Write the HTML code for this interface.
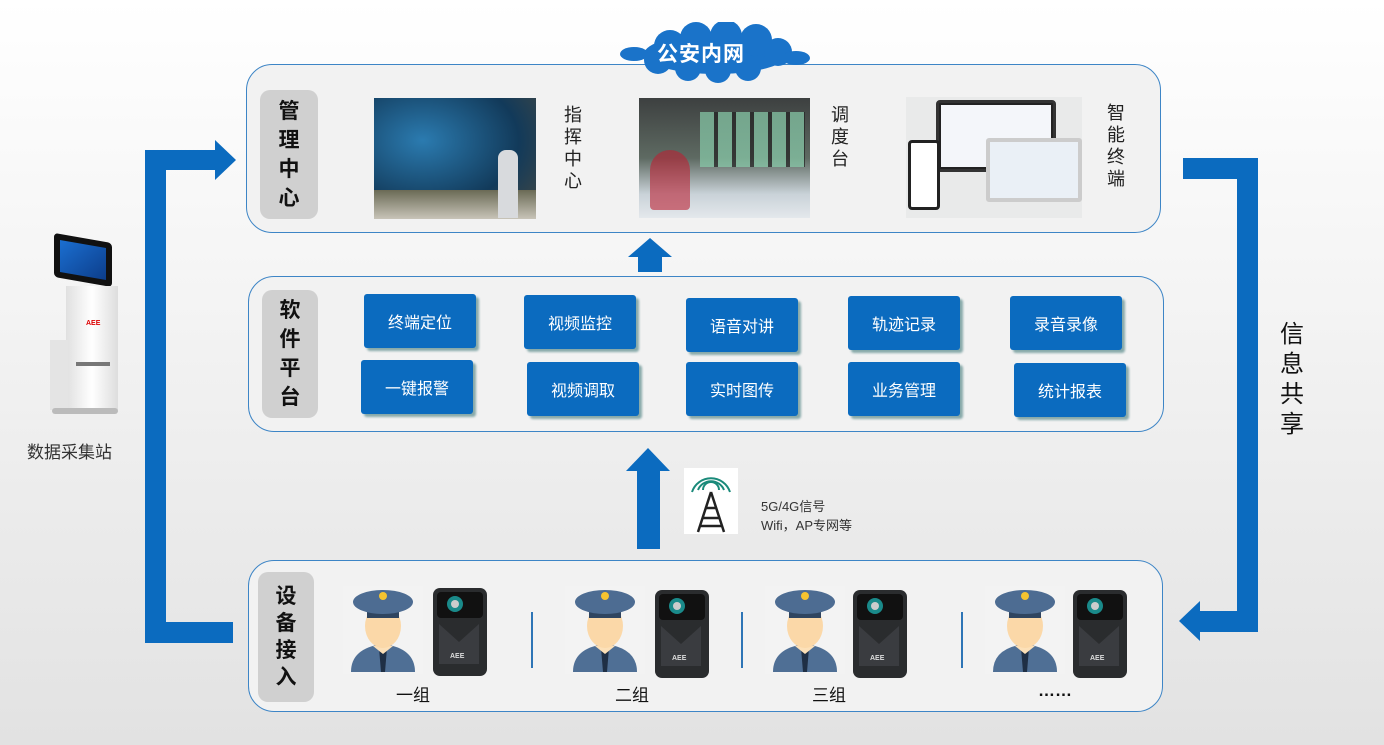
<!DOCTYPE html>
<html><head><meta charset="utf-8"><style>
*{margin:0;padding:0;box-sizing:border-box}
body{width:1384px;height:745px;position:relative;overflow:hidden;background:linear-gradient(#fff 0%,#f4f4f4 40%,#e2e2e2 100%);font-family:"Liberation Sans","Noto Sans CJK SC",sans-serif}
.a{position:absolute}
.panel{position:absolute;background:#f2f2f2;border:1.5px solid #3d85c6;border-radius:26px}
.lab{position:absolute;background:#d0d0d0;border-radius:10px;font-weight:bold;font-size:21px;color:#111;display:flex;flex-direction:column;align-items:center;justify-content:center;line-height:29px}
.btn{position:absolute;width:112px;height:54px;background:#0b6bbf;color:#fff;font-size:16px;display:flex;align-items:center;justify-content:center;border-radius:3px;box-shadow:3px 3px 2px #8aa;}
.bl{position:absolute;background:#0b6bbf}
.vt{position:absolute;font-size:18px;line-height:22px;color:#222;width:20px}
.img{position:absolute}
.grp{position:absolute;font-size:17px;color:#111}
</style></head><body>

<!-- left arrow -->
<div class="bl" style="left:145px;top:150px;width:21px;height:493px"></div>
<div class="bl" style="left:145px;top:150px;width:72px;height:20px"></div>
<div class="a" style="left:215px;top:140px;border-left:21px solid #0b6bbf;border-top:20px solid transparent;border-bottom:20px solid transparent"></div>
<div class="bl" style="left:145px;top:622px;width:88px;height:21px"></div>
<!-- right arrow -->
<div class="bl" style="left:1183px;top:158px;width:75px;height:21px"></div>
<div class="bl" style="left:1237px;top:158px;width:21px;height:474px"></div>
<div class="bl" style="left:1198px;top:611px;width:60px;height:21px"></div>
<div class="a" style="left:1179px;top:601px;border-right:21px solid #0b6bbf;border-top:20px solid transparent;border-bottom:20px solid transparent"></div>
<div class="a" style="left:1280px;top:320px;font-size:24px;line-height:30px;width:28px;color:#111">信<br>息<br>共<br>享</div>

<!-- kiosk -->
<div class="a" style="left:48px;top:238px;width:76px;height:180px">
 <div class="a" style="left:6px;top:0;width:58px;height:44px;background:#111;border-radius:4px;transform:skewY(10deg)"></div>
 <div class="a" style="left:12px;top:6px;width:46px;height:32px;background:linear-gradient(135deg,#1b6fd1,#0c3d8a);transform:skewY(10deg)"></div>
 <div class="a" style="left:18px;top:48px;width:52px;height:124px;background:linear-gradient(90deg,#e0e0e0,#fff 50%,#ddd)"></div>
 <div class="a" style="left:2px;top:102px;width:18px;height:70px;background:#e4e4e4"></div>
 <div class="a" style="left:38px;top:82px;font-size:7px;color:#d00;font-weight:bold">AEE</div>
 <div class="a" style="left:28px;top:124px;width:34px;height:4px;background:#777"></div>
 <div class="a" style="left:4px;top:170px;width:66px;height:6px;background:#bbb;border-radius:3px"></div>
</div>
<div class="a" style="left:27px;top:438px;font-size:17px;color:#333">数据采集站</div>

<!-- top panel -->
<div class="panel" style="left:246px;top:64px;width:915px;height:169px"></div>
<div class="lab" style="left:260px;top:90px;width:58px;height:129px">管<span>理</span><span>中</span><span>心</span></div>
<div class="img" style="left:374px;top:98px;width:162px;height:121px;background:radial-gradient(ellipse at 30% 35%,#2b7bb0,#123a5a 60%,#4a4a40)"></div>
<div class="img" style="left:374px;top:190px;width:162px;height:29px;background:linear-gradient(#6a6a55,#c8c4b8)"></div>
<div class="img" style="left:498px;top:150px;width:20px;height:68px;background:#d8dadd;border-radius:8px 8px 0 0"></div>
<div class="vt" style="left:564px;top:104px;font-size:18px;line-height:22px">指<br>挥<br>中<br>心</div>
<div class="img" style="left:639px;top:98px;width:171px;height:120px;background:linear-gradient(#3d4040,#5e6a62 50%,#c9d2d8 80%,#e4e8ec)"></div>
<div class="img" style="left:700px;top:112px;width:105px;height:55px;background:repeating-linear-gradient(90deg,#8ca 0 14px,#222 14px 18px);opacity:.7"></div>
<div class="img" style="left:650px;top:150px;width:40px;height:60px;background:#b23;border-radius:20px 20px 4px 4px;opacity:.6"></div>
<div class="vt" style="left:831px;top:104px">调<br>度<br>台</div>
<div class="img" style="left:906px;top:97px;width:176px;height:121px;background:#e9eaea"></div>
<div class="img" style="left:936px;top:100px;width:120px;height:72px;background:#222;border-radius:4px;border:3px solid #333"></div>
<div class="img" style="left:941px;top:105px;width:110px;height:62px;background:#f4f6fa"></div>
<div class="img" style="left:986px;top:138px;width:96px;height:64px;background:#eaf0f6;border:4px solid #ccc;border-radius:3px"></div>
<div class="img" style="left:908px;top:140px;width:32px;height:70px;background:#fff;border:3px solid #222;border-radius:4px"></div>
<div class="vt" style="left:1107px;top:102px">智<br>能<br>终<br>端</div>

<!-- cloud -->
<svg class="a" style="left:618px;top:22px" width="196" height="62"><g fill="#1a73c9"><ellipse cx="98" cy="32" rx="72" ry="20"/><circle cx="52" cy="24" r="16"/><circle cx="78" cy="16" r="16"/><circle cx="108" cy="14" r="16"/><circle cx="138" cy="18" r="16"/><circle cx="160" cy="30" r="14"/><circle cx="40" cy="38" r="14"/><circle cx="70" cy="46" r="13"/><circle cx="100" cy="48" r="13"/><circle cx="130" cy="46" r="13"/><ellipse cx="16" cy="32" rx="14" ry="7"/><ellipse cx="178" cy="36" rx="14" ry="7"/></g></svg>
<div class="a" style="left:657px;top:38px;font-size:21px;font-weight:bold;color:#fff;letter-spacing:1px">公安内网</div>

<!-- up arrow 1 -->
<div class="bl" style="left:638px;top:256px;width:24px;height:16px"></div>
<div class="a" style="left:628px;top:238px;border-bottom:19px solid #0b6bbf;border-left:22px solid transparent;border-right:22px solid transparent"></div>

<!-- middle panel -->
<div class="panel" style="left:248px;top:276px;width:916px;height:156px"></div>
<div class="lab" style="left:262px;top:290px;width:56px;height:128px">软<span>件</span><span>平</span><span>台</span></div>
<div class="btn" style="left:364px;top:294px">终端定位</div>
<div class="btn" style="left:524px;top:295px">视频监控</div>
<div class="btn" style="left:686px;top:298px">语音对讲</div>
<div class="btn" style="left:848px;top:296px">轨迹记录</div>
<div class="btn" style="left:1010px;top:296px">录音录像</div>
<div class="btn" style="left:361px;top:360px">一键报警</div>
<div class="btn" style="left:527px;top:362px">视频调取</div>
<div class="btn" style="left:686px;top:362px">实时图传</div>
<div class="btn" style="left:848px;top:362px">业务管理</div>
<div class="btn" style="left:1014px;top:363px">统计报表</div>

<!-- up arrow 2 -->
<div class="bl" style="left:637px;top:470px;width:23px;height:79px"></div>
<div class="a" style="left:626px;top:448px;border-bottom:23px solid #0b6bbf;border-left:22px solid transparent;border-right:22px solid transparent"></div>
<svg class="a" style="left:684px;top:468px" width="54" height="66"><rect width="54" height="66" fill="#fff"/><g stroke="#1a8a7a" fill="none" stroke-width="2"><path d="M14 22a14 14 0 0 1 26 0"/><path d="M8 24a20 20 0 0 1 38 0"/><path d="M19 22a8 8 0 0 1 16 0"/></g><g stroke="#222" stroke-width="2.5" fill="none"><path d="M27 24L14 64M27 24L40 64M18 50h18M21 40h12M16 58h22"/></g></svg>
<div class="a" style="left:761px;top:497px;font-size:13px;color:#333;line-height:19px">5G/4G信号<br>Wifi，AP专网等</div>

<!-- bottom panel -->
<div class="panel" style="left:248px;top:560px;width:915px;height:152px"></div>
<div class="lab" style="left:258px;top:572px;width:56px;height:130px;line-height:27px">设<span>备</span><span>接</span><span>入</span></div>

<svg width="0" height="0" style="position:absolute"><defs>
<g id="cop"><rect x="0" y="0" width="80" height="88" fill="#f3f3f3"/><path d="M8 86q0-24 32-28q32 4 32 28z" fill="#4f6f95"/><path d="M36 62h8l-2 24h-4z" fill="#1f2f45"/><path d="M30 60l10 8l10-8" fill="#fce0b8"/><ellipse cx="40" cy="40" rx="18" ry="22" fill="#fbd8a8"/><rect x="24" y="22" width="32" height="10" fill="#2f4560"/><ellipse cx="40" cy="16" rx="30" ry="12" fill="#4d6c92"/><circle cx="40" cy="10" r="4" fill="#f5c330"/></g>
<g id="cam"><rect x="0" y="0" width="54" height="88" rx="7" fill="#2a2c2e"/><rect x="4" y="4" width="46" height="26" rx="4" fill="#111"/><circle cx="22" cy="16" r="8" fill="#1a8a8a"/><circle cx="22" cy="16" r="4" fill="#ccc"/><path d="M6 36l20 18l20-18v40h-40z" fill="#3a3c40"/><text x="17" y="70" font-size="7" fill="#ddd" font-family="Liberation Sans" font-weight="bold">AEE</text></g>
</defs></svg>
<svg class="a" style="left:343px;top:586px" width="150" height="92"><use href="#cop"/><use href="#cam" x="90" y="2"/></svg>
<svg class="a" style="left:565px;top:586px" width="150" height="92"><use href="#cop"/><use href="#cam" x="90" y="4"/></svg>
<svg class="a" style="left:765px;top:586px" width="150" height="92"><use href="#cop"/><use href="#cam" x="88" y="4"/></svg>
<svg class="a" style="left:985px;top:586px" width="150" height="92"><use href="#cop"/><use href="#cam" x="88" y="4"/></svg>
<div class="a" style="left:531px;top:612px;width:1.5px;height:56px;background:#2e75b6"></div>
<div class="a" style="left:741px;top:612px;width:1.5px;height:56px;background:#2e75b6"></div>
<div class="a" style="left:961px;top:612px;width:1.5px;height:56px;background:#2e75b6"></div>
<div class="grp" style="left:396px;top:681px">一组</div>
<div class="grp" style="left:615px;top:681px">二组</div>
<div class="grp" style="left:812px;top:681px">三组</div>
<div class="grp" style="left:1038px;top:681px;font-weight:bold">……</div>
</body></html>
